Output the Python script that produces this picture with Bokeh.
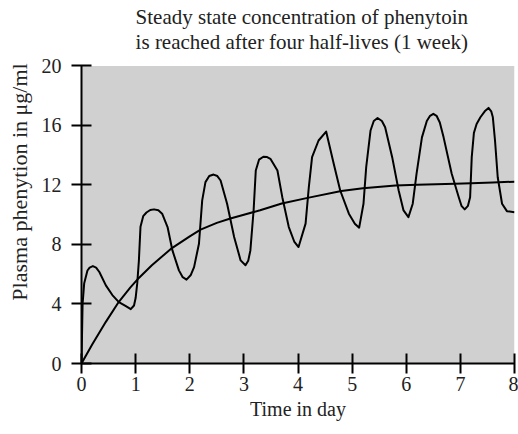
from bokeh.plotting import figure
from bokeh.models import Range1d, FixedTicker, Label, BoxAnnotation
from bokeh.embed import file_html
from bokeh.resources import INLINE

# Smooth (average) concentration curve
avg_day = [0, 0.2, 0.45, 0.69, 0.9, 1.06, 1.3, 1.65, 2.0, 2.2, 2.5, 2.75, 3.0, 3.3,
           3.7, 4.2, 4.8, 5.2, 5.8, 6.2, 6.9, 7.2, 7.6, 8.0]
avg_conc = [0, 1.3, 2.8, 4.15, 5.1, 5.75, 6.6, 7.7, 8.55, 9.0, 9.45, 9.75, 10.0, 10.3,
            10.75, 11.15, 11.6, 11.78, 11.96, 12.02, 12.08, 12.12, 12.17, 12.22]

# Fluctuating concentration curve
osc_day = [0, 0.01, 0.02, 0.05, 0.11, 0.15, 0.21, 0.27, 0.33, 0.45, 0.57, 0.69, 0.82,
           0.91, 0.97, 1.0, 1.03, 1.06, 1.09, 1.14, 1.2, 1.27, 1.34, 1.42, 1.49, 1.59,
           1.68, 1.8, 1.87, 1.94, 2.02, 2.08, 2.17, 2.23, 2.29, 2.36, 2.44, 2.51, 2.57,
           2.69, 2.82, 2.94, 3.03, 3.08, 3.12, 3.18, 3.22, 3.28, 3.36, 3.43, 3.49, 3.62,
           3.71, 3.83, 3.93, 4.01, 4.14, 4.2, 4.26, 4.38, 4.52, 4.66, 4.78, 4.94, 5.05,
           5.13, 5.21, 5.26, 5.34, 5.4, 5.47, 5.55, 5.61, 5.74, 5.86, 5.95, 6.04, 6.12,
           6.19, 6.29, 6.38, 6.44, 6.5, 6.56, 6.62, 6.69, 6.84, 6.97, 7.02, 7.08, 7.14,
           7.18, 7.21, 7.25, 7.3, 7.37, 7.45, 7.52, 7.57, 7.6, 7.64, 7.69, 7.77, 7.86, 8.0]
osc_conc = [0, 2.0, 4.0, 5.4, 6.25, 6.45, 6.55, 6.45, 6.15, 5.25, 4.6, 4.13, 3.85,
            3.65, 3.9, 4.4, 5.4, 6.9, 9.2, 9.9, 10.15, 10.32, 10.36, 10.3, 10.07, 9.17,
            7.6, 6.26, 5.8, 5.64, 5.95, 6.48, 8.05, 10.96, 12.19, 12.6, 12.7, 12.6, 12.3,
            10.74, 8.5, 6.93, 6.6, 6.9, 7.6, 10.3, 12.97, 13.7, 13.9, 13.88, 13.76, 12.97,
            11.18, 9.17, 8.2, 7.83, 9.4, 11.85, 13.87, 14.99, 15.59, 13.42, 11.63, 10.07, 9.4,
            9.13, 10.74, 13.2, 15.66, 16.3, 16.5, 16.3, 15.88, 13.87, 11.63, 10.29, 9.84, 10.74,
            12.75, 15.2, 16.3, 16.65, 16.78, 16.65, 16.2, 15.2, 12.75, 11.18, 10.6, 10.36, 10.6,
            11.18, 13.87, 15.5, 16.1, 16.55, 16.95, 17.18, 16.95, 16.55, 14.99, 12.52, 10.74, 10.24, 10.17]

title_lines = ["Steady state concentration of phenytoin",
               "is reached after four half-lives (1 week)"]

x_ticks = [0, 1, 2, 3, 4, 5, 6, 7, 8]
y_ticks = [0, 4, 8, 12, 16, 20]
x_min, x_max = 0, 8
y_min, y_max = 0, 20

FONT = "Liberation Serif"

# The frame extends above y=20 to hold the two-line heading; the grey
# plotting area itself covers only 0..20.
p = figure(width=518, height=434, output_backend="svg", toolbar_location=None,
           x_range=Range1d(x_min, x_max), y_range=Range1d(y_min, 24.4),
           min_border_left=81, min_border_right=4, min_border_top=0, min_border_bottom=71)

p.background_fill_color = "white"
p.border_fill_color = "white"
p.outline_line_color = None
p.grid.visible = False

p.add_layout(BoxAnnotation(left=x_min, right=x_max, bottom=y_min, top=y_max,
                           fill_color="#d0d0d0", fill_alpha=1.0, line_color=None,
                           level="underlay"))

for line_text, y_pos in zip(title_lines, [23.3, 21.63]):
    p.add_layout(Label(x=4.07, y=y_pos, text=line_text, text_align="center",
                       text_baseline="alphabetic", text_font=FONT,
                       text_font_size="21px", text_color="#222222"))

for ax in (p.xaxis[0], p.yaxis[0]):
    ax.axis_line_width = 2
    ax.axis_line_color = "black"
    ax.major_tick_line_width = 2
    ax.major_tick_line_color = "black"
    ax.major_tick_in = 10
    ax.major_tick_out = 10
    ax.minor_tick_line_color = None
    ax.major_label_text_font = FONT
    ax.major_label_text_font_size = "20px"
    ax.major_label_text_color = "#222222"
    ax.axis_label_text_font = FONT
    ax.axis_label_text_font_size = "20px"
    ax.axis_label_text_font_style = "normal"
    ax.axis_label_text_color = "#222222"

p.yaxis.bounds = (y_min, y_max)
p.yaxis.axis_label_text_font_size = "22px"
p.xaxis.ticker = FixedTicker(ticks=x_ticks)
p.yaxis.ticker = FixedTicker(ticks=y_ticks)
p.xaxis.axis_label = "Time in day"
p.yaxis.axis_label = "Plasma phenytion in μg/ml"
p.xaxis.major_label_standoff = 3
p.yaxis.major_label_standoff = 10
p.xaxis.axis_label_standoff = 4
p.yaxis.axis_label_standoff = 7

p.line(avg_day, avg_conc, line_color="black", line_width=2, line_join="round")
p.line(osc_day, osc_conc, line_color="black", line_width=2, line_join="round")

open("out.html", "w").write(file_html(p, INLINE))
